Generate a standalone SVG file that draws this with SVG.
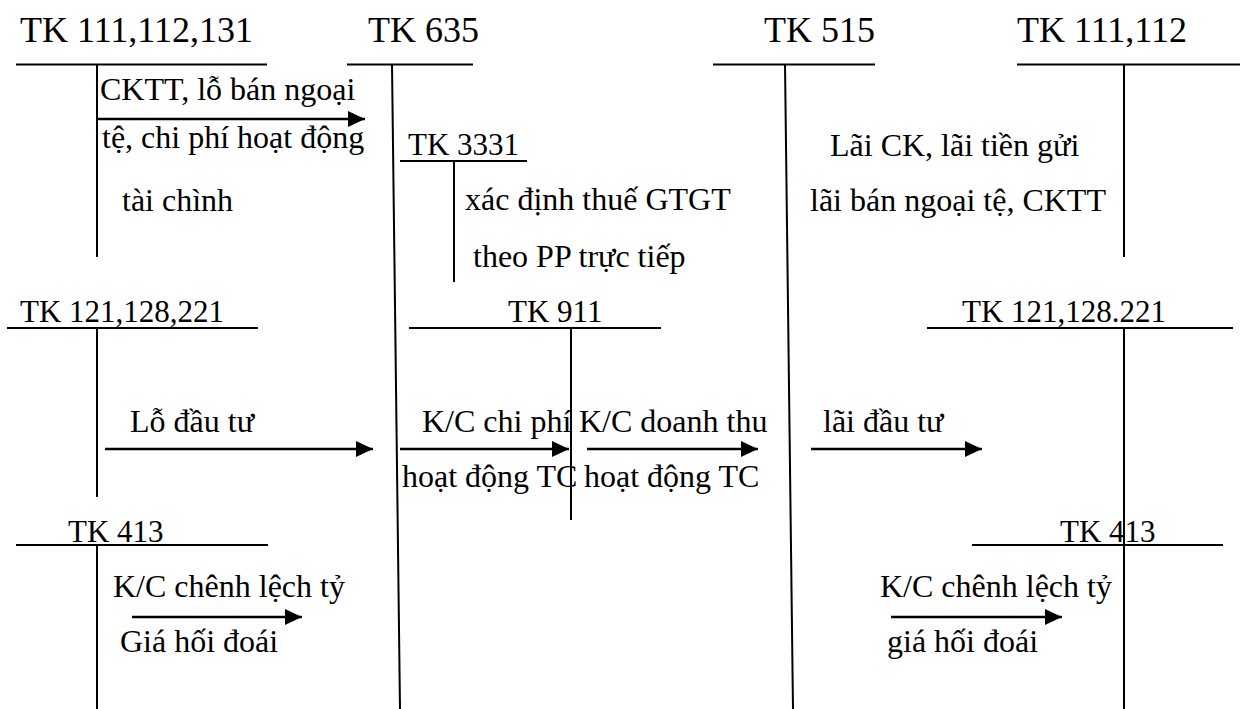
<svg xmlns="http://www.w3.org/2000/svg" width="1240" height="709" viewBox="0 0 1240 709">
  <style>
    text { font-family: "Liberation Serif", "Times New Roman", serif; fill: #000; }
    .hd { font-size: 36px; }
    .ac { font-size: 31px; }
    .lb { font-size: 32px; }
    .ln { stroke: #000; stroke-width: 2; fill: none; }
    .ar { stroke: #000; stroke-width: 2.5; fill: none; marker-end: url(#head); }
  </style>
  <defs>
    <marker id="head" markerUnits="userSpaceOnUse" markerWidth="18" markerHeight="16" refX="17" refY="8" orient="auto">
      <path d="M0,0 L17,8 L0,16 Z" fill="#000"/>
    </marker>
  </defs>
  <rect width="1240" height="709" fill="#fff"/>

  <!-- T-accounts, top row -->
  <g id="tk111-112-131">
    <text class="hd" x="20" y="42">TK 111,112,131</text>
    <line class="ln" x1="16" y1="64.5" x2="267" y2="64.5"/>
    <line class="ln" x1="97" y1="64" x2="97" y2="257"/>
  </g>
  <g id="tk635">
    <text class="hd" x="368" y="42">TK 635</text>
    <line class="ln" x1="347" y1="64.5" x2="473" y2="64.5"/>
    <line class="ln" x1="392" y1="64" x2="400" y2="709"/>
  </g>
  <g id="tk3331">
    <text class="ac" x="408" y="155">TK 3331</text>
    <line class="ln" x1="400" y1="161" x2="527" y2="161"/>
    <line class="ln" x1="454" y1="161" x2="454" y2="282"/>
  </g>
  <g id="tk515">
    <text class="hd" x="764" y="42">TK 515</text>
    <line class="ln" x1="713" y1="64.5" x2="875" y2="64.5"/>
    <line class="ln" x1="785" y1="64" x2="793" y2="709"/>
  </g>
  <g id="tk111-112">
    <text class="hd" x="1017" y="42">TK 111,112</text>
    <line class="ln" x1="1017" y1="64.5" x2="1240" y2="64.5"/>
    <line class="ln" x1="1124" y1="64" x2="1124" y2="257"/>
  </g>

  <!-- T-accounts, middle row -->
  <g id="tk121-128-221-left">
    <text class="ac" x="20" y="322">TK 121,128,221</text>
    <line class="ln" x1="7" y1="328" x2="258" y2="328"/>
    <line class="ln" x1="97" y1="328" x2="97" y2="497"/>
  </g>
  <g id="tk911">
    <text class="ac" x="508" y="322">TK 911</text>
    <line class="ln" x1="409" y1="328" x2="661" y2="328"/>
    <line class="ln" x1="571" y1="328" x2="571" y2="520"/>
  </g>
  <g id="tk121-128-221-right">
    <text class="ac" x="962" y="322">TK 121,128.221</text>
    <line class="ln" x1="927" y1="328" x2="1233" y2="328"/>
    <line class="ln" x1="1124" y1="328" x2="1124" y2="709"/>
  </g>

  <!-- T-accounts, bottom row -->
  <g id="tk413-left">
    <text class="ac" x="68" y="542">TK 413</text>
    <line class="ln" x1="16" y1="545" x2="268" y2="545"/>
    <line class="ln" x1="97" y1="545" x2="97" y2="709"/>
  </g>
  <g id="tk413-right">
    <text class="ac" x="1060" y="542">TK 413</text>
    <line class="ln" x1="972" y1="545" x2="1223" y2="545"/>
  </g>

  <!-- Entry labels -->
  <g id="labels">
    <text class="lb" x="100" y="100">CKTT, lỗ bán ngoại</text>
    <text class="lb" x="102" y="148">tệ, chi phí hoạt động</text>
    <text class="lb" x="122" y="211">tài chình</text>

    <text class="lb" x="465" y="210">xác định thuế GTGT</text>
    <text class="lb" x="473" y="267">theo PP trực tiếp</text>

    <text class="lb" x="830" y="156">Lãi CK, lãi tiền gửi</text>
    <text class="lb" x="810" y="211">lãi bán ngoại tệ, CKTT</text>

    <text class="lb" x="130" y="432">Lỗ đầu tư</text>
    <text class="lb" x="422" y="432">K/C chi phí</text>
    <text class="lb" x="402" y="487">hoạt động TC</text>
    <text class="lb" x="579" y="432">K/C doanh thu</text>
    <text class="lb" x="584" y="487">hoạt động TC</text>
    <text class="lb" x="823" y="432">lãi đầu tư</text>

    <text class="lb" x="113" y="597">K/C chênh lệch tỷ</text>
    <text class="lb" x="120" y="652">Giá hối đoái</text>
    <text class="lb" x="880" y="597">K/C chênh lệch tỷ</text>
    <text class="lb" x="887" y="652">giá hối đoái</text>
  </g>

  <!-- Connectors -->
  <g id="connectors">
    <line class="ar" x1="97" y1="119" x2="365" y2="119"/>
    <line class="ar" x1="105" y1="449" x2="373" y2="449"/>
    <line class="ar" x1="400" y1="449" x2="569" y2="449"/>
    <line class="ar" x1="587" y1="449" x2="758" y2="449"/>
    <line class="ar" x1="811" y1="449" x2="982" y2="449"/>
    <line class="ar" x1="132" y1="617" x2="302" y2="617"/>
    <line class="ar" x1="891" y1="617" x2="1062" y2="617"/>
  </g>
</svg>
